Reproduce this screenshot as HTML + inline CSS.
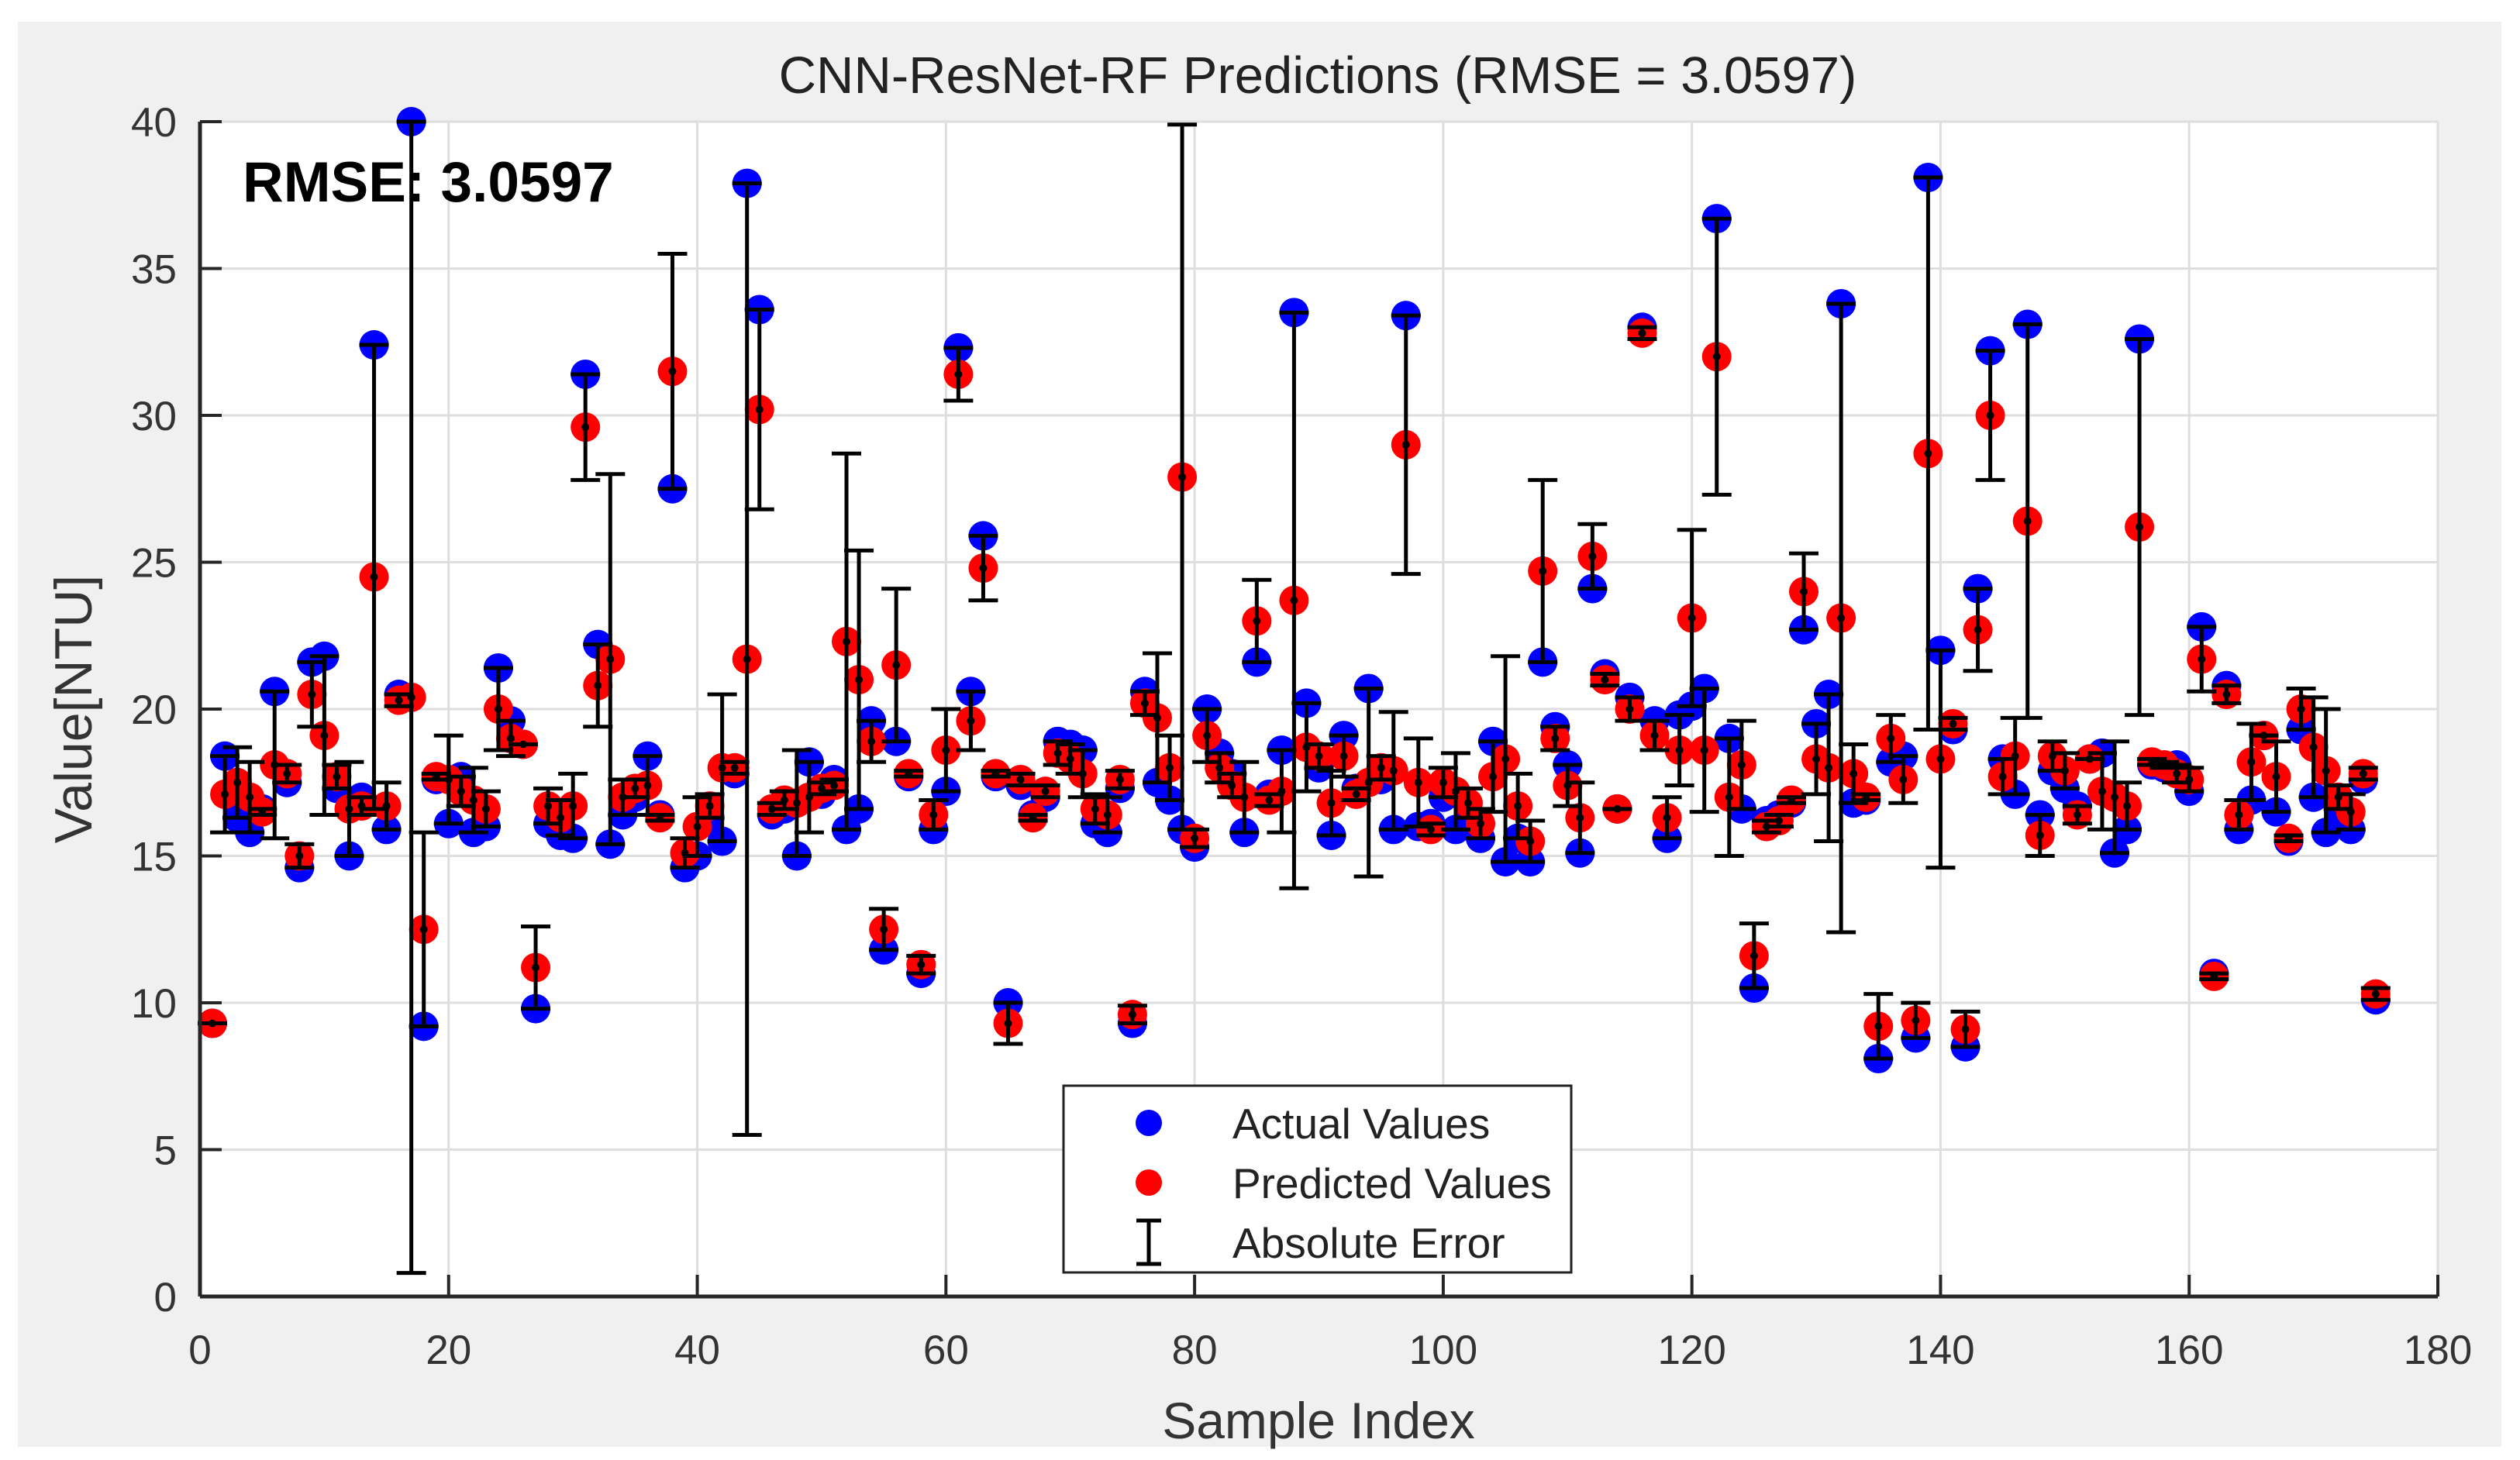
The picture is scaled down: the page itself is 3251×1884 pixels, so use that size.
<!DOCTYPE html>
<html><head><meta charset="utf-8"><style>
html,body{margin:0;padding:0;background:#fff;}
svg{display:block;font-family:"Liberation Sans",Arial,sans-serif;}
</style></head><body>
<svg id="chart" width="3251" height="1884" viewBox="0 0 3251 1884">
<rect x="23" y="28" width="3204" height="1839" fill="#f0f0f0"/>
<rect x="258" y="157" width="2887" height="1516" fill="#fff"/>
<g id="grid"></g>
<g id="marks"></g>
<g id="axes"></g>
<text x="1700" y="120" font-size="67" text-anchor="middle" fill="#222">CNN-ResNet-RF Predictions (RMSE = 3.0597)</text>
<text x="313" y="260" font-size="73" font-weight="bold" fill="#000">RMSE: 3.0597</text>
<text x="1701" y="1856" font-size="66" text-anchor="middle" fill="#333">Sample Index</text>
<text transform="translate(118,915) rotate(-90)" font-size="68" text-anchor="middle" fill="#333">Value[NTU]</text>
<g>
<rect x="1372" y="1401" width="655" height="241" fill="#fff" stroke="#222" stroke-width="3"/>
<circle cx="1482" cy="1449" r="17" fill="#0000ff"/>
<text x="1590" y="1469" font-size="55" fill="#222">Actual Values</text>
<circle cx="1482" cy="1526" r="17" fill="#ff0000"/>
<text x="1590" y="1546" font-size="55" fill="#222">Predicted Values</text>
<g stroke="#000" stroke-width="5"><line x1="1482" y1="1575" x2="1482" y2="1631"/><line x1="1466" y1="1575" x2="1498" y2="1575"/><line x1="1466" y1="1631" x2="1498" y2="1631"/></g>
<text x="1590" y="1623" font-size="55" fill="#222">Absolute Error</text>
</g>
</svg>
<script>
const actual=[9.3,18.4,16.3,15.8,16.6,20.6,17.5,14.6,21.6,21.8,17.3,15.0,17.0,32.4,15.9,20.5,40,9.2,17.6,16.1,17.7,15.8,16.0,21.4,19.6,18.8,9.8,16.1,15.7,15.6,31.4,22.2,15.4,16.4,17.0,18.4,16.4,27.5,14.6,15.0,16.3,15.5,17.8,37.9,33.6,16.4,16.6,15.0,18.2,17.1,17.6,15.9,16.6,19.6,11.8,18.9,17.7,11.0,15.9,17.2,32.3,20.6,25.9,17.7,10.0,17.4,16.4,17.0,18.9,18.8,18.6,16.1,15.8,17.3,9.3,20.6,17.5,16.9,15.9,15.3,20.0,18.5,17.8,15.8,21.6,17.1,18.6,33.5,20.2,18.0,15.7,19.1,17.3,20.7,17.6,15.9,33.4,16.0,16.1,17.0,15.9,16.3,15.6,18.9,14.8,15.6,14.8,21.6,19.4,18.1,15.1,24.1,21.2,16.6,20.4,33.0,19.6,15.6,19.8,20.1,20.7,36.7,19.0,16.6,10.5,16.2,16.4,16.8,22.7,19.5,20.5,33.8,16.8,16.9,8.1,18.2,18.4,8.8,38.1,22.0,19.3,8.5,24.1,32.2,18.3,17.1,33.1,16.4,17.9,17.3,16.7,18.3,18.5,15.1,15.9,32.6,18.1,18.0,18.1,17.2,22.8,11.0,20.8,15.9,16.9,19.1,16.5,15.5,19.3,17.0,15.8,16.6,15.9,17.6,10.1];
const predicted=[9.3,17.1,17.5,17.0,16.5,18.1,17.8,15.0,20.5,19.1,17.7,16.6,16.7,24.5,16.7,20.3,20.4,12.5,17.7,17.6,17.2,16.9,16.6,20.0,19.0,18.8,11.2,16.7,16.3,16.7,29.6,20.8,21.7,17.0,17.3,17.4,16.3,31.5,15.1,16.0,16.7,18.0,18.0,21.7,30.2,16.6,16.9,16.8,17.0,17.3,17.4,22.3,21.0,18.9,12.5,21.5,17.8,11.3,16.4,18.6,31.4,19.6,24.8,17.8,9.3,17.6,16.3,17.2,18.5,18.3,17.8,16.6,16.4,17.6,9.6,20.2,19.7,18.0,27.9,15.6,19.1,18.0,17.4,17.0,23.0,16.9,17.2,23.7,18.7,18.4,16.8,18.4,17.1,17.5,18.0,17.9,29.0,17.5,15.9,17.5,17.2,16.8,16.1,17.7,18.3,16.7,15.5,24.7,19.0,17.4,16.3,25.2,21.0,16.6,20.0,32.8,19.1,16.3,18.6,23.1,18.6,32.0,17.0,18.1,11.6,16.0,16.2,16.9,24.0,18.3,18.0,23.1,17.8,17.0,9.2,19.0,17.6,9.4,28.7,18.3,19.5,9.1,22.7,30.0,17.7,18.4,26.4,15.7,18.4,17.9,16.4,18.3,17.2,17.0,16.7,26.2,18.2,18.1,17.8,17.6,21.7,10.9,20.5,16.4,18.2,19.1,17.7,15.6,20.0,18.7,17.9,17.0,16.5,17.8,10.3];
const xTicks=[0,20,40,60,80,100,120,140,160,180];
const yTicks=[0,5,10,15,20,25,30,35,40];

const NS='http://www.w3.org/2000/svg';
const L=258,R=3145,T=157,B=1673;
function sx(v){return L+(v-0)/(180-0)*(R-L);}
function sy(v){return B-(v-0)/(40-0)*(B-T);}
function mk(tag,attrs,parent){const e=document.createElementNS(NS,tag);for(const k in attrs)e.setAttribute(k,attrs[k]);parent.appendChild(e);return e;}
const grid=document.getElementById('grid'),marks=document.getElementById('marks'),axes=document.getElementById('axes');

xTicks.forEach(t=>{
  const g=mk('line',{x1:sx(t),x2:sx(t),y1:T,y2:B,stroke:'#dedede','stroke-width':3},grid);
  
  
  const tk=mk('line',{x1:sx(t),x2:sx(t),y1:B,y2:B-28,stroke:'#262626','stroke-width':4},axes);
  
  
  const lb=mk('text',{x:sx(t),y:1760,'font-size':53,'text-anchor':'middle',fill:'#333'},axes);
  lb.textContent=t;
  
  
});
yTicks.forEach(t=>{
  const g=mk('line',{x1:L,x2:R,y1:sy(t),y2:sy(t),stroke:'#dedede','stroke-width':3},grid);
  
  
  const tk=mk('line',{x1:L,x2:L+28,y1:sy(t),y2:sy(t),stroke:'#262626','stroke-width':4},axes);
  
  
  const lb=mk('text',{x:228,y:sy(t)+19,'font-size':53,'text-anchor':'end',fill:'#333'},axes);
  lb.textContent=t;
  
  
});
const ax1=mk('line',{x1:L,x2:L,y1:T,y2:B,stroke:'#262626','stroke-width':5},axes);


const ax2=mk('line',{x1:L,x2:R,y1:B,y2:B,stroke:'#262626','stroke-width':5},axes);



actual.forEach((v,i)=>{
  const c=mk('circle',{cx:sx(i+1),cy:sy(v),r:19,fill:'#0000ff'},marks);
  
  
});
predicted.forEach((v,i)=>{
  const c=mk('circle',{cx:sx(i+1),cy:sy(v),r:19,fill:'#ff0000'},marks);
  
  
});
predicted.forEach((v,i)=>{
  const e=Math.abs(actual[i]-v);
  const x=sx(i+1),y1=sy(v+e),y2=sy(v-e);
  const g=mk('g',{stroke:'#000','stroke-width':5},marks);
  
  
  mk('line',{x1:x,x2:x,y1:y1,y2:y2},g);
  mk('line',{x1:x-19,x2:x+19,y1:y1,y2:y1},g);
  mk('line',{x1:x-19,x2:x+19,y1:y2,y2:y2},g);
  mk('circle',{cx:x,cy:sy(v),r:5,fill:'#000',stroke:'none'},g);
});
</script>
</body></html>
